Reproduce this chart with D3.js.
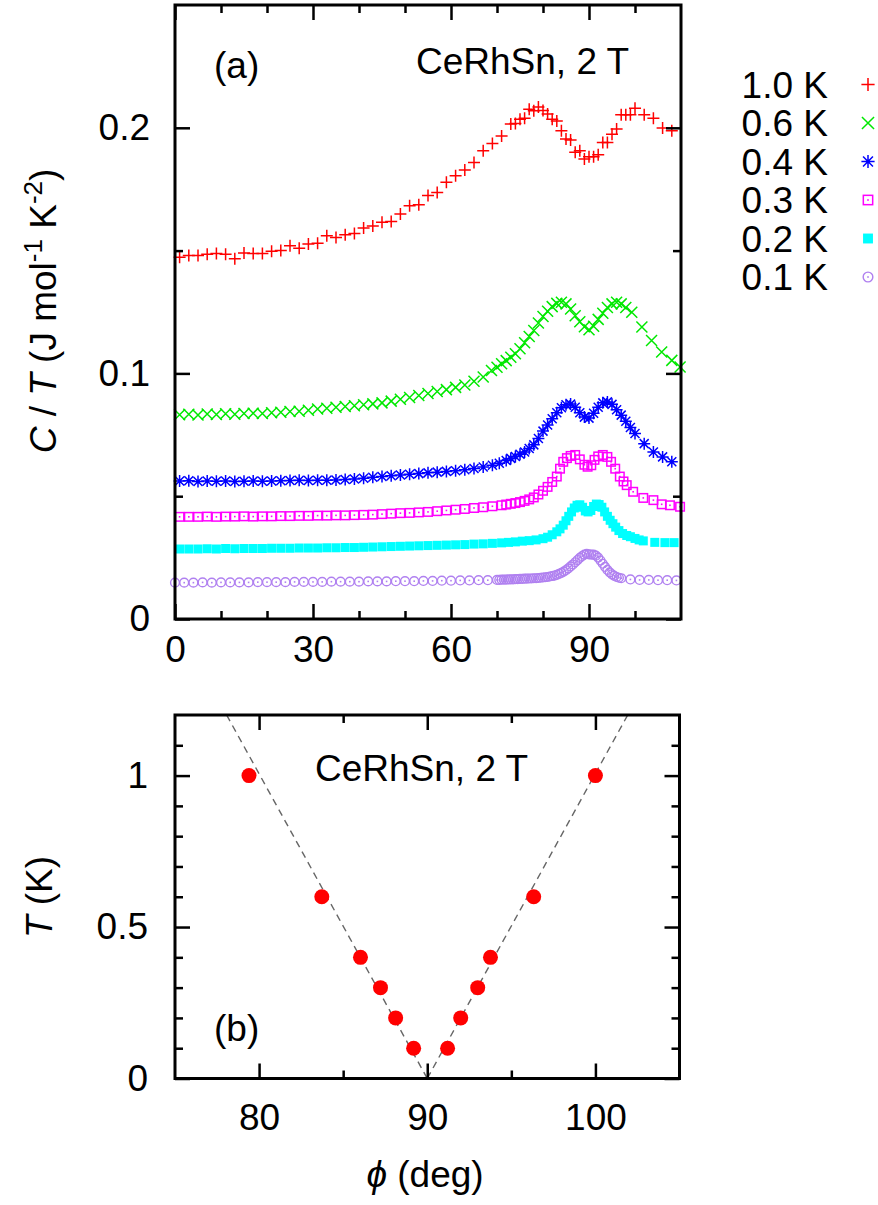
<!DOCTYPE html>
<html><head><meta charset="utf-8">
<script src="https://cdn.jsdelivr.net/npm/d3@7"></script>
<style>
body{margin:0;background:#fff}
svg{display:block}
text{font-family:"Liberation Sans",Arial,Helvetica,sans-serif;fill:#000}
</style>
</head><body>
<svg id="c" width="878" height="1205"></svg>
<script>
// ---------------- DATA ----------------
const legendLabels = ["1.0 K","0.6 K","0.4 K","0.3 K","0.2 K","0.1 K"];
const seriesColors = ["#ff0000","#00e800","#0000ff","#ff00ff","#00ffff","#b080f0"];
const seriesMarkers = ["plus","cross","star","box","fbox","circle"];

const phi10 = [1,3,5,7,9,11,13,15,17,19,21,23,25,27,29,31,33,35,37,39,41,43,45,47,49,51,53,55,57,59,61,63,65,67,69,71,
  73,74,75,76,77,78,79,80,81,82,83,84,85,86,87,88,89,90,91,92,93,94,95,96,97,98,99,100,102,104,106,108];
const c10 = [0.1473,0.1480,0.1480,0.1485,0.1488,0.1485,0.1467,0.1490,0.1488,0.1488,0.1497,0.1500,0.1520,0.1510,0.1527,0.1530,0.1560,0.1553,0.1565,0.1570,0.1592,0.1600,0.1615,0.1618,0.1649,0.1683,0.1687,0.1724,0.1737,0.1778,0.1805,0.1828,0.1859,0.1907,0.1936,0.1967,
  0.2015,0.2018,0.2035,0.2039,0.2076,0.2069,0.2085,0.2070,0.2056,0.2035,0.2028,0.1988,0.1954,0.1950,0.1900,0.1907,0.1873,0.1882,0.1882,0.1890,0.1940,0.1940,0.1974,0.1995,0.2053,0.2053,0.2053,0.2080,0.2053,0.2039,0.1999,0.1988];

const phi06 = [1,3,5,7,9,11,13,15,17,19,21,23,25,27,29,31,33,35,37,39,41,43,45,47,49,51,53,55,57,59,61,63,65,67,
  68.8,70,71,72,73,74,75,76,77,78,79,80,81,82,83,84,85,86,87,88,89,90,91,92,93,94,95,96,97,98,99.3,101.5,103.6,105.8,108,109.8];
const c06 = [0.0832,0.0834,0.0831,0.0835,0.0833,0.0836,0.0834,0.0837,0.0838,0.0837,0.0840,0.0842,0.0845,0.0846,0.0850,0.0855,0.0858,0.0862,0.0865,0.0868,0.0872,0.0876,0.0880,0.0887,0.0895,0.0902,0.0910,0.0918,0.0926,0.0934,0.0943,0.0953,0.0968,0.0985,
  0.1012,0.1025,0.1039,0.1052,0.1066,0.1080,0.1100,0.1125,0.1150,0.1175,0.1205,0.1232,0.1253,0.1272,0.1285,0.1290,0.1283,0.1262,0.1235,0.1210,0.1190,0.1178,0.1192,0.1220,0.1245,0.1268,0.1283,0.1290,0.1283,0.1268,0.1249,0.1189,0.1134,0.1087,0.1053,0.1026];

const phi04 = [1,3,5,7,9,11,13,15,17,19,21,23,25,27,29,31,33,35,37,39,41,43,45,47,49,51,53,55,57,59,61,63,65,67,69,
  70.5,72,73,74,75,76,77,78,79,80,81,82,83,84,85,86,87,88,89,90,91,92,93,94,95,96,97,98,99,100,102,104,106,108];
const c04 = [0.0562,0.0563,0.0560,0.0562,0.0561,0.0562,0.0560,0.0561,0.0562,0.0561,0.0562,0.0563,0.0564,0.0565,0.0564,0.0565,0.0565,0.0566,0.0568,0.0570,0.0573,0.0577,0.0580,0.0583,0.0586,0.0589,0.0592,0.0595,0.0598,0.0601,0.0604,0.0608,0.0613,0.0619,0.0626,
  0.0634,0.0645,0.0654,0.0662,0.0671,0.0680,0.0694,0.0709,0.0735,0.0765,0.0790,0.0815,0.0840,0.0860,0.0872,0.0875,0.0862,0.0840,0.0822,0.0818,0.0838,0.0862,0.0880,0.0884,0.0874,0.0852,0.0830,0.0805,0.0780,0.0755,0.0714,0.0680,0.0660,0.0640];

const phi03 = [1,3,5,7,9,11,13,15,17,19,21,23,25,27,29,31,33,35,37,39,41,43,45,47,49,51,53,55,57,59,61,63,65,67,69,71,
  72,73,74,75,76,77,78,79,80,81,82,83,
  83.7,84.4,85.2,86,87,88,89,89.7,90.5,91.2,92,93,94,94.8,95.7,96.7,97.5,98.2,99.6,101.8,104,105.8,107.6,109.8];
const c03 = [0.0416,0.0416,0.0416,0.0417,0.0416,0.0417,0.0417,0.0418,0.0417,0.0418,0.0418,0.0419,0.0419,0.0420,0.0420,0.0421,0.0421,0.0422,0.0422,0.0423,0.0424,0.0425,0.0427,0.0429,0.0431,0.0432,0.0434,0.0436,0.0439,0.0442,0.0445,0.0448,0.0452,0.0455,0.0459,0.0463,
  0.0466,0.0469,0.0472,0.0476,0.0481,0.0487,0.0495,0.0507,0.0522,0.0538,0.0558,0.0580,
  0.0612,0.0640,0.0655,0.0664,0.0668,0.0650,0.0628,0.0620,0.0626,0.0648,0.0662,0.0668,0.0660,0.0640,0.0612,0.0580,0.0560,0.0545,0.0518,0.0493,0.0484,0.0467,0.0463,0.0457];

const phi02 = [1,3,5,7,9,11,13,15,17,19,21,23,25,27,29,31,33,35,37,39,41,43,45,47,49,51,53,55,57,59,61,63,65,67,69,71,
  72.5,74,75.5,77,78.5,80,81,82,83,83.7,84.4,85,85.6,86.2,86.8,87.4,88,88.6,89.2,89.8,90.4,91,91.6,92.2,92.8,93.4,94,94.6,95.2,95.8,96.5,97.3,98.2,99,100,100.9,101.8,104.3,106.5,108.5];
const c02 = [0.0285,0.0285,0.0285,0.0286,0.0285,0.0287,0.0286,0.0287,0.0287,0.0287,0.0288,0.0288,0.0288,0.0289,0.0289,0.0289,0.0290,0.0290,0.0291,0.0291,0.0292,0.0293,0.0294,0.0295,0.0296,0.0297,0.0298,0.0299,0.0300,0.0301,0.0302,0.0303,0.0305,0.0306,0.0308,0.0310,
  0.0312,0.0314,0.0317,0.0319,0.0322,0.0327,0.0333,0.0343,0.0355,0.0367,0.0382,0.0400,0.0418,0.0436,0.0452,0.0463,0.0465,0.0455,0.0440,0.0436,0.0442,0.0458,0.0468,0.0466,0.0455,0.0436,0.0418,0.0402,0.0388,0.0374,0.0360,0.0348,0.0340,0.0335,0.0328,0.0322,0.0318,0.0312,0.0311,0.0311];

const phi01 = [0,2,4,6,8,10,12,14,16,18,20,22,24,26,28,30,32,34,36,38,40,42,44,46,48,50,52,54,56,58,60,62,64,66,68,
  70,70.5,71,71.5,72,72.5,73,73.5,74,74.5,75,75.5,76,76.5,77,77.5,78,78.5,79,79.5,80,80.5,81,81.5,82,82.5,83,83.5,84,84.5,
  85,85.5,86,86.5,87,87.5,88,88.5,89,89.5,90,90.5,91,91.5,92,92.5,93,93.5,94,94.5,95,95.5,96,96.5,97,
  99,101,103,105,107,109];
const c01 = [0.0148,0.0148,0.0148,0.0149,0.0148,0.0149,0.0149,0.0149,0.0149,0.0150,0.0150,0.0150,0.0150,0.0151,0.0151,0.0151,0.0151,0.0152,0.0152,0.0152,0.0152,0.0153,0.0153,0.0153,0.0154,0.0154,0.0154,0.0155,0.0155,0.0156,0.0156,0.0157,0.0157,0.0158,0.0158,
  0.0159,0.0159,0.0160,0.0160,0.0160,0.0161,0.0161,0.0161,0.0162,0.0162,0.0163,0.0163,0.0164,0.0164,0.0165,0.0165,0.0166,0.0166,0.0167,0.0168,0.0169,0.0170,0.0171,0.0173,0.0175,0.0177,0.0180,0.0184,0.0188,0.0193,
  0.0199,0.0206,0.0214,0.0222,0.0231,0.0240,0.0249,0.0256,0.0262,0.0265,0.0263,0.0262,0.0262,0.0258,0.0250,0.0238,0.0225,0.0212,0.0200,0.0190,0.0182,0.0176,0.0171,0.0168,0.0166,
  0.0161,0.0159,0.0159,0.0158,0.0158,0.0157];

const seriesPhi = [phi10, phi06, phi04, phi03, phi02, phi01];
const seriesC = [c10, c06, c04, c03, c02, c01];

// Panel (b): transition temperatures
const tTrans = [1.0, 0.6, 0.4, 0.3, 0.2, 0.1];
const phiLow = [79.4, 83.73, 86.03, 87.22, 88.12, 89.19];
const phiHigh = [100.0, 96.33, 93.76, 93.0, 91.99, 91.21];
const guidePhiL = [78.07, 90], guideTL = [1.2, 0];
const guidePhiR = [90, 101.92], guideTR = [0, 1.2];

// Tick values / labels
const xTicksA = [0, 30, 60, 90], xMinorA = [10, 20, 40, 50, 70, 80, 100];
const yTicksA = [0, 0.1, 0.2], yMinorA = [0.05, 0.15];
const xTicksB = [80, 90, 100], xMinorB = [85, 95];
const yTicksB = [0, 0.5, 1], yMinorB = [0.1, 0.2, 0.3, 0.4, 0.6, 0.7, 0.8, 0.9, 1.1];

// ---------------- DRAW ----------------
const svg = d3.select("#c");
const FS = 37;
const MAJ = 15, MIN = 8;

function markerPath(type, s) {
  const h = s / 2;
  switch (type) {
    case "plus": return `M${-h},0H${h}M0,${-h}V${h}`;
    case "cross": return `M${-h},${-h}L${h},${h}M${-h},${h}L${h},${-h}`;
    case "star": { const d = h * 0.75; return `M${-h},0H${h}M0,${-h}V${h}M${-d},${-d}L${d},${d}M${-d},${d}L${d},${-d}`; }
  }
}
function drawMarker(g, type, color, cx, cy, big) {
  const k = big ? 1.1 : 1;
  if (type === "plus" || type === "cross" || type === "star") {
    const s = (type === "cross" ? 11 : 12) * k;
    g.append("path").attr("d", markerPath(type, s)).attr("transform", `translate(${cx},${cy})`)
      .attr("fill", "none").attr("stroke", color).attr("stroke-width", 1.5);
  } else if (type === "box") {
    const s = 8.5 * k;
    g.append("rect").attr("x", cx - s / 2).attr("y", cy - s / 2).attr("width", s).attr("height", s)
      .attr("fill", "none").attr("stroke", color).attr("stroke-width", 1.5);
    g.append("rect").attr("x", cx - 0.8).attr("y", cy - 0.8).attr("width", 1.6).attr("height", 1.6).attr("fill", color);
  } else if (type === "fbox") {
    const s = 9 * k;
    g.append("rect").attr("x", cx - s / 2).attr("y", cy - s / 2).attr("width", s).attr("height", s).attr("fill", color);
  } else if (type === "circle") {
    g.append("circle").attr("cx", cx).attr("cy", cy).attr("r", 4.4 * k)
      .attr("fill", "none").attr("stroke", color).attr("stroke-width", 1.4);
    g.append("rect").attr("x", cx - 0.8).attr("y", cy - 0.8).attr("width", 1.6).attr("height", 1.6).attr("fill", color);
  }
}

function frameAxes(x, y, opts) {
  const [x0, x1] = x.range(), [y0, y1] = y.range(); // y0 bottom, y1 top
  const tickStyle = g => { g.select(".domain").remove(); g.selectAll(".tick line").attr("stroke", "#000").attr("stroke-width", 2.5); };
  const labelStyle = g => g.selectAll(".tick text").attr("font-size", FS).attr("font-family", '"Liberation Sans",Arial,sans-serif').attr("fill", "#000");
  svg.append("g").attr("transform", `translate(0,${y0})`)
    .call(d3.axisBottom(x).tickValues(opts.xt).tickFormat(opts.xf).tickSizeInner(-MAJ).tickSizeOuter(0).tickPadding(opts.xpad))
    .call(tickStyle).call(labelStyle);
  svg.append("g").attr("transform", `translate(0,${y0})`)
    .call(d3.axisBottom(x).tickValues(opts.xm).tickFormat("").tickSizeInner(-MIN).tickSizeOuter(0)).call(tickStyle);
  svg.append("g").attr("transform", `translate(0,${y1})`)
    .call(d3.axisTop(x).tickValues(opts.xt).tickFormat("").tickSizeInner(-MAJ).tickSizeOuter(0)).call(tickStyle);
  svg.append("g").attr("transform", `translate(0,${y1})`)
    .call(d3.axisTop(x).tickValues(opts.xm).tickFormat("").tickSizeInner(-MIN).tickSizeOuter(0)).call(tickStyle);
  svg.append("g").attr("transform", `translate(${x0},0)`)
    .call(d3.axisLeft(y).tickValues(opts.yt).tickFormat(opts.yf).tickSizeInner(-MAJ).tickSizeOuter(0).tickPadding(opts.ypad))
    .call(tickStyle).call(labelStyle);
  svg.append("g").attr("transform", `translate(${x0},0)`)
    .call(d3.axisLeft(y).tickValues(opts.ym).tickFormat("").tickSizeInner(-MIN).tickSizeOuter(0)).call(tickStyle);
  svg.append("g").attr("transform", `translate(${x1},0)`)
    .call(d3.axisRight(y).tickValues(opts.yt).tickFormat("").tickSizeInner(-MAJ).tickSizeOuter(0)).call(tickStyle);
  svg.append("g").attr("transform", `translate(${x1},0)`)
    .call(d3.axisRight(y).tickValues(opts.ym).tickFormat("").tickSizeInner(-MIN).tickSizeOuter(0)).call(tickStyle);
}

// ---------- Panel (a) ----------
const xA = d3.scaleLinear().domain([0, 110]).range([175, 681]);
const yA = d3.scaleLinear().domain([0, 0.25]).range([619, 5]);

const gData = svg.append("g");
seriesPhi.forEach((phis, i) => {
  const g = gData.append("g");
  phis.forEach((p, j) => drawMarker(g, seriesMarkers[i], seriesColors[i], xA(p), yA(seriesC[i][j]), false));
});

frameAxes(xA, yA, {
  xt: xTicksA, xm: xMinorA, xf: d3.format("d"), xpad: 17,
  yt: yTicksA, ym: yMinorA, yf: d => d === 0 ? "0" : d3.format(".1f")(d), ypad: 25
});
svg.append("rect").attr("x", 175).attr("y", 5).attr("width", 506).attr("height", 614)
  .attr("fill", "none").attr("stroke", "#000").attr("stroke-width", 3);

svg.append("text").attr("x", 214).attr("y", 78).attr("font-size", FS).text("(a)");
svg.append("text").attr("x", 416).attr("y", 74).attr("font-size", FS).text("CeRhSn, 2 T");

// legend
const legY = d3.scalePoint().domain(legendLabels).range([84.5, 277]);
legendLabels.forEach((lab, i) => {
  svg.append("text").attr("x", 828).attr("y", legY(lab) + 13).attr("font-size", FS)
    .attr("text-anchor", "end").text(lab);
  drawMarker(svg.append("g"), seriesMarkers[i], seriesColors[i], 868, legY(lab), true);
});

// y label (a)
const yla = svg.append("text").attr("transform", "translate(56,311) rotate(-90)")
  .attr("text-anchor", "middle").attr("font-size", FS);
yla.append("tspan").attr("font-style", "italic").text("C");
yla.append("tspan").text(" / ");
yla.append("tspan").attr("font-style", "italic").text("T");
yla.append("tspan").text(" (J mol");
yla.append("tspan").attr("font-size", 26).attr("dy", -14).text("-1");
yla.append("tspan").attr("dy", 14).text(" K");
yla.append("tspan").attr("font-size", 26).attr("dy", -14).text("-2");
yla.append("tspan").attr("dy", 14).text(")");

// ---------- Panel (b) ----------
const xB = d3.scaleLinear().domain([75, 105]).range([175, 679.5]);
const yB = d3.scaleLinear().domain([0, 1.2]).range([1078.5, 715]);

svg.append("clipPath").attr("id", "clipB").append("rect")
  .attr("x", 175).attr("y", 715).attr("width", 504.5).attr("height", 363.5);
const line = d3.line().x(d => xB(d[0])).y(d => yB(d[1]));
const gB = svg.append("g").attr("clip-path", "url(#clipB)");
[[guidePhiL, guideTL], [guidePhiR, guideTR]].forEach(([ps, ts]) => {
  gB.append("path").attr("d", line(d3.zip(ps, ts)))
    .attr("fill", "none").attr("stroke", "#666").attr("stroke-width", 1.4).attr("stroke-dasharray", "7,5");
});
const pts = d3.zip(phiLow, tTrans).concat(d3.zip(phiHigh, tTrans));
gB.selectAll("circle.pt").data(pts).join("circle").attr("class", "pt")
  .attr("cx", d => xB(d[0])).attr("cy", d => yB(d[1])).attr("r", 7.5).attr("fill", "#ff0000");

frameAxes(xB, yB, {
  xt: xTicksB, xm: xMinorB, xf: d3.format("d"), xpad: 25,
  yt: yTicksB, ym: yMinorB, yf: d => d3.format("~g")(d), ypad: 27
});
svg.append("rect").attr("x", 175).attr("y", 715).attr("width", 504.5).attr("height", 363.5)
  .attr("fill", "none").attr("stroke", "#000").attr("stroke-width", 3);

svg.append("text").attr("x", 315).attr("y", 781).attr("font-size", FS).text("CeRhSn, 2 T");
svg.append("text").attr("x", 214).attr("y", 1041).attr("font-size", FS).text("(b)");

const ylb = svg.append("text").attr("transform", "translate(52,897) rotate(-90)")
  .attr("text-anchor", "middle").attr("font-size", FS);
ylb.append("tspan").attr("font-style", "italic").text("T");
ylb.append("tspan").text(" (K)");

const xlb = svg.append("text").attr("x", 425).attr("y", 1187).attr("text-anchor", "middle").attr("font-size", FS);
xlb.append("tspan").attr("font-style", "italic").text("ϕ");
xlb.append("tspan").text(" (deg)");
</script>
</body></html>
